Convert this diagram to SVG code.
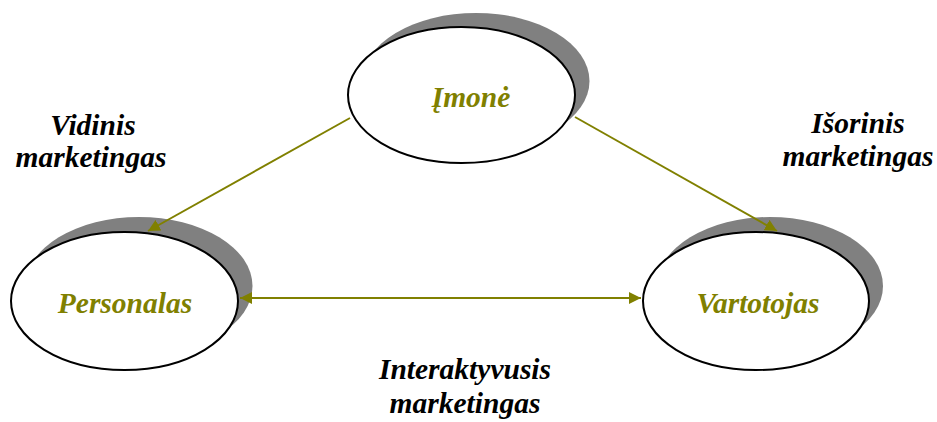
<svg xmlns="http://www.w3.org/2000/svg" width="937" height="422" viewBox="0 0 937 422">
  <style>
    .shadow { fill: #808080; stroke: none; }
    .node { fill: #ffffff; stroke: #000000; stroke-width: 2; }
    .link { stroke: #808000; stroke-width: 2; fill: none; }
  </style>
  <defs>
    <marker id="arrowEnd" viewBox="0 0 10 10" refX="10" refY="5" markerWidth="6" markerHeight="6" markerUnits="strokeWidth" orient="auto">
      <path d="M0,0 L10,5 L0,10 Z" fill="#808000"/>
    </marker>
    <marker id="arrowStart" viewBox="0 0 10 10" refX="0" refY="5" markerWidth="6" markerHeight="6" markerUnits="strokeWidth" orient="auto">
      <path d="M10,0 L0,5 L10,10 Z" fill="#808000"/>
    </marker>
  </defs>

  <!-- nodes: white ellipse over a grey drop shadow shifted up and right -->
  <g id="imone">
    <ellipse class="shadow" cx="476" cy="81" rx="113.5" ry="68"/>
    <ellipse class="node" cx="461.5" cy="95" rx="113.5" ry="68"/>
    <text x="471" y="107" font-family="Liberation Serif" font-weight="bold" font-style="italic" font-size="29.5px" text-anchor="middle" fill="#808000">Įmonė</text>
  </g>

  <g id="personalas">
    <ellipse class="shadow" cx="139" cy="286" rx="113.5" ry="69"/>
    <ellipse class="node" cx="124.5" cy="301" rx="113.5" ry="69"/>
    <text x="125" y="313" font-family="Liberation Serif" font-weight="bold" font-style="italic" font-size="29.5px" text-anchor="middle" fill="#808000">Personalas</text>
  </g>

  <g id="vartotojas">
    <ellipse class="shadow" cx="770" cy="286" rx="113" ry="69"/>
    <ellipse class="node" cx="756" cy="301" rx="113" ry="69"/>
    <text x="758" y="313" font-family="Liberation Serif" font-weight="bold" font-style="italic" font-size="29.5px" text-anchor="middle" fill="#808000">Vartotojas</text>
  </g>

  <g id="connectors">
    <line class="link" x1="350" y1="118" x2="148" y2="231" marker-end="url(#arrowEnd)"/>
    <line class="link" x1="575" y1="117" x2="777" y2="231" marker-end="url(#arrowEnd)"/>
    <line class="link" x1="240" y1="298" x2="641" y2="298" marker-start="url(#arrowStart)" marker-end="url(#arrowEnd)"/>
  </g>

  <g id="labels" fill="#000000">
    <text x="93" y="135" font-family="Liberation Serif" font-weight="bold" font-style="italic" font-size="29.5px" text-anchor="middle">Vidinis</text>
    <text x="91" y="167" font-family="Liberation Serif" font-weight="bold" font-style="italic" font-size="29.5px" text-anchor="middle">marketingas</text>
    <text x="858" y="133" font-family="Liberation Serif" font-weight="bold" font-style="italic" font-size="29.5px" text-anchor="middle">Išorinis</text>
    <text x="858" y="166" font-family="Liberation Serif" font-weight="bold" font-style="italic" font-size="29.5px" text-anchor="middle">marketingas</text>
    <text x="465" y="379" font-family="Liberation Serif" font-weight="bold" font-style="italic" font-size="29.5px" text-anchor="middle">Interaktyvusis</text>
    <text x="465" y="413" font-family="Liberation Serif" font-weight="bold" font-style="italic" font-size="29.5px" text-anchor="middle">marketingas</text>
  </g>
</svg>
